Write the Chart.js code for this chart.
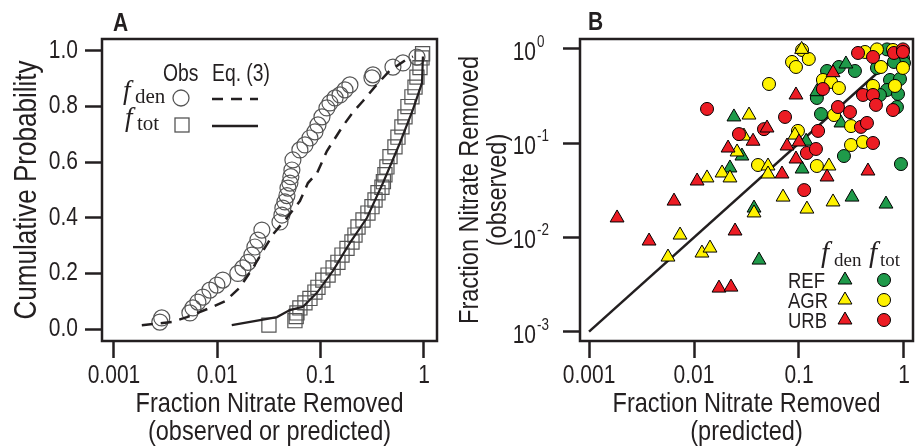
<!DOCTYPE html>
<html>
<head>
<meta charset="utf-8">
<title>Fraction nitrate removed</title>
<script src="https://cdn.jsdelivr.net/npm/chart.js@4.4.1/dist/chart.umd.min.js"></script>
<style>
  html, body { margin: 0; padding: 0; background: #fff; }
  body { position: relative; width: 923px; height: 446px; overflow: hidden; }
  canvas { position: absolute; top: 0; }
  #chartA { left: 0; }
  #chartB { left: 440px; }
</style>
</head>
<body>
<canvas id="chartA" width="440" height="446"></canvas>
<canvas id="chartB" width="483" height="446"></canvas>
<script>
// ---- panel A: cumulative distributions ----
const denObsX = [0.00278, 0.0029, 0.00543, 0.00581, 0.00649, 0.00726, 0.00848, 0.00991, 0.0113, 0.0158,
  0.0177, 0.0198, 0.0216, 0.0231, 0.0247, 0.027, 0.0404, 0.0422, 0.0431, 0.0451,
  0.0472, 0.0483, 0.0504, 0.0515, 0.0527, 0.0539, 0.063, 0.0705, 0.0788, 0.0881,
  0.0942, 0.103, 0.115, 0.123, 0.138, 0.154, 0.172, 0.192, 0.314, 0.321,
  0.501, 0.626, 0.855]
const denObsP = [0.025, 0.04, 0.058, 0.076, 0.097, 0.115, 0.14, 0.158, 0.176, 0.2,
  0.22, 0.24, 0.266, 0.295, 0.32, 0.356, 0.385, 0.41, 0.435, 0.457,
  0.48, 0.507, 0.525, 0.548, 0.572, 0.608, 0.644, 0.662, 0.687, 0.709,
  0.734, 0.763, 0.795, 0.813, 0.831, 0.842, 0.86, 0.878, 0.903, 0.914,
  0.942, 0.957, 0.978]
const denEqX = [0.00186, 0.00363, 0.00508, 0.00906, 0.0119, 0.0166, 0.0221, 0.0276, 0.0345, 0.0472,
  0.063, 0.0753, 0.092, 0.115, 0.164, 0.206, 0.257, 0.351, 0.469, 0.684, 0.783]
const denEqP = [0.014, 0.025, 0.043, 0.08, 0.1, 0.15, 0.22, 0.28, 0.34, 0.4,
  0.46, 0.525, 0.56, 0.64, 0.73, 0.78, 0.82, 0.88, 0.93, 0.97, 0.98]

const totObsX = [0.0316, 0.0564, 0.058, 0.059, 0.063, 0.0705, 0.0788, 0.0881, 0.0942, 0.105,
  0.118, 0.132, 0.147, 0.161, 0.18, 0.201, 0.215, 0.23, 0.257, 0.287,
  0.314, 0.336, 0.359, 0.392, 0.405, 0.419, 0.438, 0.469, 0.524, 0.56,
  0.612, 0.655, 0.7, 0.765, 0.819, 0.855, 0.915, 0.957, 0.97]
const totObsP = [0.014, 0.03, 0.045, 0.058, 0.076, 0.094, 0.11, 0.133, 0.15, 0.176,
  0.194, 0.22, 0.24, 0.266, 0.29, 0.313, 0.338, 0.367, 0.392, 0.417,
  0.44, 0.464, 0.49, 0.51, 0.53, 0.555, 0.583, 0.62, 0.655, 0.69,
  0.727, 0.763, 0.8, 0.835, 0.87, 0.906, 0.94, 0.975, 0.99]
const totEqX = [0.0138, 0.0378, 0.0504, 0.0674, 0.092, 0.132, 0.192, 0.281, 0.401, 0.586, 0.783, 0.957, 0.977]
const totEqP = [0.014, 0.043, 0.068, 0.08, 0.13, 0.21, 0.31, 0.4, 0.525, 0.67, 0.79, 0.885, 0.98]

const xTicks = [0.001, 0.01, 0.1, 1]
const xTickLabels = ['0.001', '0.01', '0.1', '1']
const pTicks = [0, 0.2, 0.4, 0.6, 0.8, 1]
const pTickLabels = ['0.0', '0.2', '0.4', '0.6', '0.8', '1.0']

// ---- panel B: observed vs predicted ----
const refDenPred = [0.28, 0.148, 0.024, 0.117, 0.0286, 0.251, 0.107, 0.022, 0.32, 0.674, 0.0373, 0.0416]
const refDenObs = [0.693, 0.352, 0.19, 0.105, 0.0731, 0.164, 0.0532, 0.0546, 0.0268, 0.0226, 0.0205, 0.00575]
const agrDenPred = [0.106, 0.0334, 0.0299, 0.0916, 0.0257, 0.0507, 0.0507, 0.193, 0.0185, 0.022,
  0.0133, 0.0705, 0.119, 0.211, 0.0373, 0.00736, 0.00565, 0.0119, 0.0142]
const agrDenObs = [0.99, 0.199, 0.119, 0.122, 0.0807, 0.0573, 0.0471, 0.0573, 0.0483, 0.0428,
  0.0428, 0.0268, 0.02, 0.0238, 0.0182, 0.0106, 0.00619, 0.00683, 0.00771]
const urbDenPred = [0.211, 0.0936, 0.0496, 0.0365, 0.0769, 0.1, 0.0211, 0.0936, 0.185, 0.0689,
  0.454, 0.0107, 0.00645, 0.00185, 0.0246, 0.00373, 0.0173, 0.0225]
const urbDenObs = [0.56, 0.325, 0.145, 0.105, 0.0934, 0.103, 0.0889, 0.068, 0.0438, 0.0471,
  0.0507, 0.0397, 0.0243, 0.0161, 0.0117, 0.00916, 0.0029, 0.00297]

const refTotPred = [0.268, 0.936, 0.162, 0.148, 0.185, 0.24, 0.341, 0.689, 0.978, 1.0,
  0.803, 0.553, 0.736, 0.916, 0.689, 0.877, 0.59, 0.857]
const refTotObs = [0.0731, 0.0601, 0.204, 0.302, 0.584, 0.644, 0.584, 0.99, 0.802, 0.71,
  0.728, 0.629, 0.469, 0.48, 0.367, 0.333, 0.325, 0.242]
const agrTotPred = [0.107, 0.124, 0.0858, 0.0936, 0.0518, 0.0977, 0.0407, 0.148, 0.313, 0.407,
  0.216, 0.313, 0.169, 0.202, 0.24, 0.425, 0.553, 0.786, 0.978, 0.604, 0.507, 0.821]
const agrTotObs = [0.976, 0.783, 0.728, 0.644, 0.425, 0.135, 0.0587, 0.0573, 0.0957, 0.103,
  0.199, 0.152, 0.469, 0.447, 0.385, 0.929, 0.99, 0.976, 0.629, 0.644, 0.405, 0.405]
const urbTotPred = [0.0133, 0.0736, 0.0464, 0.0268, 0.152, 0.119, 0.145, 0.507, 0.112, 0.235,
  0.306, 0.389, 0.444, 0.169, 0.365, 0.507, 0.803, 0.978, 0.978, 0.407, 0.507, 0.541, 0.786]
const urbTotObs = [0.231, 0.19, 0.141, 0.125, 0.135, 0.0787, 0.0868, 0.1005, 0.0318, 0.242,
  0.214, 0.149, 0.164, 0.376, 0.907, 0.822, 0.907, 0.99, 0.929, 0.325, 0.325, 0.255, 0.225]

const oneToOneX = [0.001, 1]
const oneToOneY = [0.001, 1]
const obsTicks = [0.001, 0.01, 0.1, 1]
const obsTickExp = ['-3', '-2', '-1', '0']
const groups = ['REF', 'AGR', 'URB']

const SANS = '"Liberation Sans", Arial, sans-serif'
const SERIF = '"Liberation Serif", "DejaVu Serif", serif'
const INK = '#231f20'
const GREEN = '#1f9a4a'
const YELLOW = '#fff200'
const RED = '#ec1c24'

Chart.defaults.font.family = SANS
Chart.defaults.color = INK

// the original figure is set in a condensed sans face: squeeze sans text horizontally
function condense(canvas, k) {
  const ctx = canvas.getContext('2d')
  const fill = ctx.fillText
  ctx.fillText = function (text, x, y) {
    if (/Serif/.test(ctx.font)) return fill.call(ctx, text, x, y)
    ctx.save()
    ctx.translate(x, y)
    ctx.scale(k, 1)
    fill.call(ctx, text, 0, 0)
    ctx.restore()
  }
}

function pts(xs, ys) {
  return xs.map((x, i) => ({ x: x, y: ys[i] }))
}

function axis(o) {
  return {
    type: o.type,
    min: o.min,
    max: o.max,
    bounds: 'data',
    afterBuildTicks: (s) => { s.ticks = o.ticks.map((v) => ({ value: v })) },
    afterFit: (s) => {
      if (o.width) s.width = o.width
      if (o.height) s.height = o.height
    },
    grid: { drawOnChartArea: false, drawTicks: true, tickLength: 17, tickWidth: 2.5, tickColor: INK },
    border: { display: false },
    ticks: {
      font: { size: 25 },
      color: INK,
      padding: o.pad,
      autoSkip: false,
      maxRotation: 0,
      callback: (v, i) => o.labels[i],
    },
    title: {
      display: true,
      text: o.title,
      color: INK,
      font: { size: o.titleSize, lineHeight: 1.0 },
      padding: o.titlePad,
    },
  }
}

function subF(ctx, x, y, sub, fSize, subSize, gap) {
  ctx.font = 'italic ' + fSize + 'px ' + SERIF
  ctx.fillText('f', x, y)
  ctx.font = subSize + 'px ' + SERIF
  ctx.fillText(sub, x + gap, y + 4)
}

function box(ctx, a) {
  ctx.lineWidth = 2.5
  ctx.strokeStyle = INK
  ctx.strokeRect(a.left, a.top, a.right - a.left, a.bottom - a.top)
}

const panelA = {
  id: 'panelA',
  afterDraw(chart) {
    const ctx = chart.ctx
    ctx.save()
    box(ctx, chart.chartArea)
    ctx.fillStyle = INK
    ctx.textAlign = 'left'
    ctx.textBaseline = 'alphabetic'
    ctx.font = 'bold 25px ' + SANS
    ctx.fillText('A', 113, 31)
    ctx.font = '23px ' + SANS
    ctx.fillText('Obs', 163, 81)
    ctx.fillText('Eq. (3)', 212, 81)
    subF(ctx, 123, 99, 'den', 27, 21, 12)
    subF(ctx, 125, 126, 'tot', 27, 21, 12)
    ctx.strokeStyle = '#555'
    ctx.lineWidth = 1.3
    ctx.beginPath()
    ctx.arc(181, 98, 8, 0, Math.PI * 2)
    ctx.stroke()
    ctx.strokeRect(175, 118, 14, 14)
    ctx.strokeStyle = INK
    ctx.lineWidth = 2.5
    ctx.setLineDash([11, 8])
    ctx.beginPath()
    ctx.moveTo(212, 99)
    ctx.lineTo(258, 99)
    ctx.stroke()
    ctx.setLineDash([])
    ctx.beginPath()
    ctx.moveTo(212, 126)
    ctx.lineTo(258, 126)
    ctx.stroke()
    ctx.restore()
  },
}

const canvasA = document.getElementById('chartA')
condense(canvasA, 0.84)
new Chart(canvasA, {
  type: 'scatter',
  data: {
    datasets: [
      {
        label: 'fden Eq. (3)', data: pts(denEqX, denEqP), showLine: true, pointRadius: 0,
        borderColor: INK, borderWidth: 2.5, borderDash: [11, 8], order: 0,
      },
      {
        label: 'ftot Eq. (3)', data: pts(totEqX, totEqP), showLine: true, pointRadius: 0,
        borderColor: INK, borderWidth: 2.2, order: 0,
      },
      {
        label: 'fden Obs', data: pts(denObsX, denObsP), pointStyle: 'circle', pointRadius: 8,
        pointBackgroundColor: 'rgba(0,0,0,0)', pointBorderColor: '#555', pointBorderWidth: 1.2, order: 1,
      },
      {
        label: 'ftot Obs', data: pts(totObsX, totObsP), pointStyle: 'rect', pointRadius: 10,
        pointBackgroundColor: 'rgba(0,0,0,0)', pointBorderColor: '#555', pointBorderWidth: 1.2, order: 1,
      },
    ],
  },
  options: {
    responsive: false,
    animation: false,
    events: [],
    layout: { autoPadding: false, padding: { left: 0, right: 3, top: 39, bottom: 0 } },
    plugins: { legend: { display: false }, tooltip: { enabled: false } },
    scales: {
      x: axis({
        type: 'logarithmic', min: 0.000766, max: 1.337, ticks: xTicks, labels: xTickLabels,
        height: 105, pad: 3, title: ['Fraction Nitrate Removed', '(observed or predicted)'],
        titleSize: 28, titlePad: { top: 0, bottom: 0 },
      }),
      y: axis({
        type: 'linear', min: -0.043, max: 1.043, ticks: pTicks, labels: pTickLabels,
        width: 102, pad: 7, title: 'Cumulative Probability', titleSize: 31,
        titlePad: { top: 12, bottom: 0 },
      }),
    },
  },
  plugins: [panelA],
})

const OX = 440
const panelB = {
  id: 'panelB',
  afterDraw(chart) {
    const ctx = chart.ctx
    const ys = chart.scales.y
    ctx.save()
    box(ctx, chart.chartArea)
    ctx.fillStyle = INK
    ctx.textAlign = 'left'
    ctx.textBaseline = 'alphabetic'
    ctx.font = 'bold 25px ' + SANS
    ctx.fillText('B', 588 - OX, 30)
    // power-of-ten tick labels
    obsTicks.forEach((v, i) => {
      const py = ys.getPixelForValue(v)
      ctx.font = '25px ' + SANS
      ctx.textAlign = 'right'
      ctx.fillText('10', 536 - OX, py + 11)
      ctx.font = '16px ' + SANS
      ctx.textAlign = 'left'
      ctx.fillText(obsTickExp[i], 537 - OX, py - 2)
    })
    // legend
    ctx.textAlign = 'left'
    subF(ctx, 821 - OX, 262, 'den', 29, 19, 13)
    subF(ctx, 869 - OX, 262, 'tot', 29, 19, 11)
    const cols = [GREEN, YELLOW, RED]
    groups.forEach((g, i) => {
      const cy = 280 + i * 20
      ctx.fillStyle = INK
      ctx.font = '22px ' + SANS
      ctx.fillText(g, 788 - OX, cy + 8)
      ctx.fillStyle = cols[i]
      ctx.strokeStyle = '#000'
      ctx.lineWidth = 1
      Chart.helpers.drawPoint(ctx, { pointStyle: 'triangle', radius: 8, rotation: 0, borderWidth: 1 }, 845 - OX, cy)
      Chart.helpers.drawPoint(ctx, { pointStyle: 'circle', radius: 6.5, rotation: 0, borderWidth: 1 }, 884 - OX, cy)
    })
    ctx.restore()
  },
}

function marks(label, xs, ys, style, color, r, order) {
  return {
    label: label, data: pts(xs, ys), pointStyle: style, pointRadius: r,
    pointBackgroundColor: color, pointBorderColor: '#000', pointBorderWidth: 1, order: order,
  }
}

const canvasB = document.getElementById('chartB')
condense(canvasB, 0.84)
new Chart(canvasB, {
  type: 'scatter',
  data: {
    datasets: [
      {
        label: '1:1', data: pts(oneToOneX, oneToOneY), showLine: true, pointRadius: 0,
        borderColor: INK, borderWidth: 2.5, order: 10,
      },
      marks('REF fden', refDenPred, refDenObs, 'triangle', GREEN, 8, 3),
      marks('AGR fden', agrDenPred, agrDenObs, 'triangle', YELLOW, 8, 2),
      marks('URB fden', urbDenPred, urbDenObs, 'triangle', RED, 8, 1),
      marks('REF ftot', refTotPred, refTotObs, 'circle', GREEN, 6.5, 3),
      marks('AGR ftot', agrTotPred, agrTotObs, 'circle', YELLOW, 6.5, 2),
      marks('URB ftot', urbTotPred, urbTotObs, 'circle', RED, 6.5, 1),
    ],
  },
  options: {
    responsive: false,
    animation: false,
    events: [],
    layout: { autoPadding: false, padding: { left: 0, right: 10, top: 39, bottom: 0 } },
    plugins: { legend: { display: false }, tooltip: { enabled: false } },
    scales: {
      x: axis({
        type: 'logarithmic', min: 0.00082, max: 1.219, ticks: xTicks, labels: xTickLabels,
        height: 105, pad: 3, title: ['Fraction Nitrate Removed', '(predicted)'],
        titleSize: 28, titlePad: { top: 0, bottom: 0 },
      }),
      y: axis({
        type: 'logarithmic', min: 0.000796, max: 1.276, ticks: obsTicks, labels: ['', '', '', ''],
        width: 140, pad: 0, title: ['Fraction Nitrate Removed', '(observed)'], titleSize: 28,
        titlePad: { top: 16, bottom: 0 },
      }),
    },
  },
  plugins: [panelB],
})
</script>
</body>
</html>
